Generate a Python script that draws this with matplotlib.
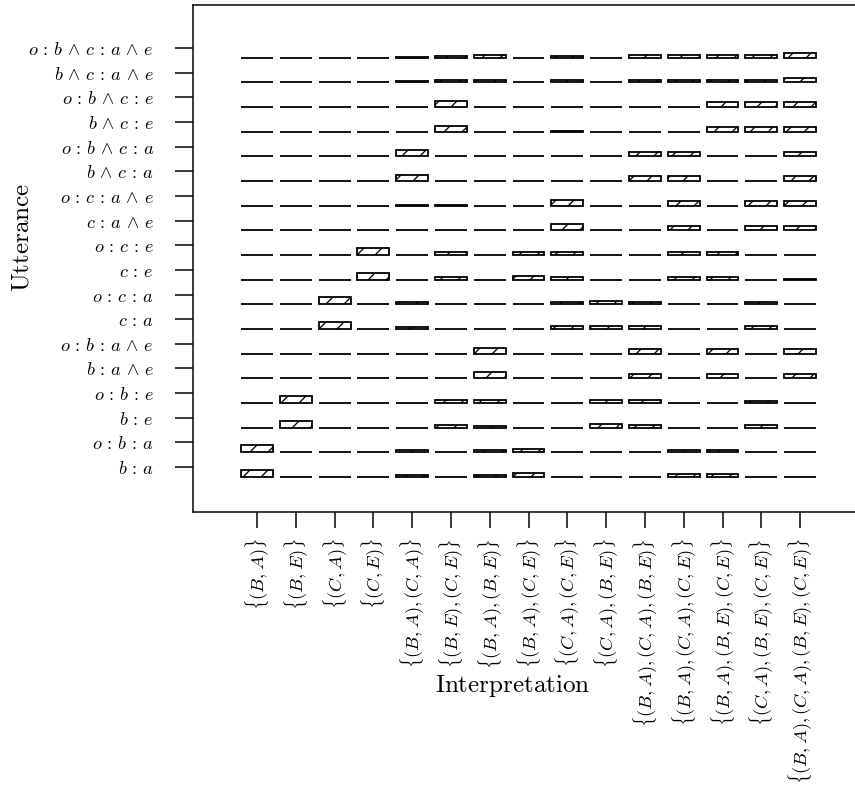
import numpy as np
import matplotlib.pyplot as plt

plt.rcParams['mathtext.fontset'] = 'cm'
plt.rcParams['hatch.linewidth'] = 0.87

# utterances, top row first
utterances = [
    r'$o \,:\, b \,\wedge\, c \,:\, a \,\wedge\, e$',
    r'$b \,\wedge\, c \,:\, a \,\wedge\, e$',
    r'$o \,:\, b \,\wedge\, c \,:\, e$',
    r'$b \,\wedge\, c \,:\, e$',
    r'$o \,:\, b \,\wedge\, c \,:\, a$',
    r'$b \,\wedge\, c \,:\, a$',
    r'$o \,:\, c \,:\, a \,\wedge\, e$',
    r'$c \,:\, a \,\wedge\, e$',
    r'$o \,:\, c \,:\, e$',
    r'$c \,:\, e$',
    r'$o \,:\, c \,:\, a$',
    r'$c \,:\, a$',
    r'$o \,:\, b \,:\, a \,\wedge\, e$',
    r'$b \,:\, a \,\wedge\, e$',
    r'$o \,:\, b \,:\, e$',
    r'$b \,:\, e$',
    r'$o \,:\, b \,:\, a$',
    r'$b \,:\, a$',
]

interpretations = [
    r'$\{(B,A)\}$',
    r'$\{(B,E)\}$',
    r'$\{(C,A)\}$',
    r'$\{(C,E)\}$',
    r'$\{(B,A),(C,A)\}$',
    r'$\{(B,E),(C,E)\}$',
    r'$\{(B,A),(B,E)\}$',
    r'$\{(B,A),(C,E)\}$',
    r'$\{(C,A),(C,E)\}$',
    r'$\{(C,A),(B,E)\}$',
    r'$\{(B,A),(C,A),(B,E)\}$',
    r'$\{(B,A),(C,A),(C,E)\}$',
    r'$\{(B,A),(B,E),(C,E)\}$',
    r'$\{(C,A),(B,E),(C,E)\}$',
    r'$\{(B,A),(C,A),(B,E),(C,E)\}$',
]

# bar heights, one row per utterance (1 = tallest bar)
probs = [
    [0.02, 0.02, 0.02, 0.02, 0.15, 0.30, 0.33, 0.02, 0.30, 0.02, 0.40, 0.35, 0.40, 0.35, 0.67],
    [0.02, 0.02, 0.02, 0.02, 0.18, 0.30, 0.33, 0.02, 0.30, 0.03, 0.40, 0.40, 0.40, 0.38, 0.65],
    [0.02, 0.02, 0.02, 0.02, 0.02, 0.86, 0.02, 0.02, 0.03, 0.02, 0.02, 0.02, 0.67, 0.67, 0.67],
    [0.02, 0.02, 0.02, 0.02, 0.02, 0.86, 0.02, 0.02, 0.05, 0.02, 0.02, 0.03, 0.67, 0.67, 0.67],
    [0.02, 0.02, 0.02, 0.02, 0.86, 0.02, 0.02, 0.02, 0.06, 0.02, 0.67, 0.67, 0.02, 0.02, 0.67],
    [0.02, 0.02, 0.02, 0.02, 0.86, 0.02, 0.06, 0.02, 0.05, 0.02, 0.67, 0.67, 0.02, 0.04, 0.67],
    [0.02, 0.02, 0.02, 0.02, 0.05, 0.04, 0.02, 0.02, 0.86, 0.02, 0.02, 0.67, 0.02, 0.67, 0.67],
    [0.02, 0.02, 0.02, 0.02, 0.02, 0.02, 0.02, 0.02, 0.86, 0.02, 0.02, 0.67, 0.02, 0.67, 0.67],
    [0.02, 0.02, 0.02, 1.00, 0.02, 0.38, 0.02, 0.50, 0.38, 0.02, 0.02, 0.40, 0.40, 0.02, 0.02],
    [0.02, 0.02, 0.02, 1.00, 0.02, 0.45, 0.02, 0.55, 0.45, 0.02, 0.02, 0.42, 0.45, 0.02, 0.10],
    [0.02, 0.02, 1.00, 0.02, 0.30, 0.02, 0.02, 0.02, 0.38, 0.50, 0.40, 0.02, 0.02, 0.40, 0.02],
    [0.02, 0.02, 1.00, 0.02, 0.33, 0.02, 0.02, 0.02, 0.42, 0.50, 0.38, 0.05, 0.02, 0.38, 0.02],
    [0.02, 0.02, 0.02, 0.02, 0.02, 0.02, 0.86, 0.02, 0.02, 0.02, 0.67, 0.02, 0.67, 0.02, 0.67],
    [0.02, 0.02, 0.02, 0.02, 0.02, 0.02, 0.86, 0.02, 0.02, 0.02, 0.67, 0.02, 0.67, 0.02, 0.67],
    [0.02, 1.00, 0.02, 0.02, 0.02, 0.38, 0.38, 0.02, 0.02, 0.50, 0.40, 0.02, 0.02, 0.35, 0.02],
    [0.02, 1.00, 0.02, 0.02, 0.02, 0.35, 0.30, 0.02, 0.02, 0.55, 0.40, 0.02, 0.02, 0.33, 0.02],
    [1.00, 0.02, 0.02, 0.02, 0.35, 0.02, 0.33, 0.45, 0.02, 0.02, 0.02, 0.40, 0.40, 0.02, 0.02],
    [1.00, 0.02, 0.02, 0.02, 0.30, 0.05, 0.35, 0.50, 0.02, 0.02, 0.02, 0.45, 0.45, 0.02, 0.02],
]

# dpi 108 gives a hatch spacing close to the scan; sizes below are px / 1.5
DPI = 108
fig = plt.figure(figsize=(855/DPI, 787/DPI), dpi=DPI)
ax = fig.add_axes([193/855, 1 - 512/787, 677/855, 507/787])

n_rows = len(utterances)
cols = np.arange(len(interpretations))
bar_h = 0.284   # row units for a bar of height 1

for r, row in enumerate(probs):
    y = n_rows - 1 - r
    ax.bar(cols, np.array(row) * bar_h, width=0.82, bottom=y - 0.40,
           align='center', facecolor='white', edgecolor='black',
           hatch='//', linewidth=1.2)

ax.set_xlim(-1.65, 15.8)
ax.set_ylim(-1.82, 18.74)

ax.set_yticks(np.arange(n_rows))
ax.set_yticklabels(utterances[::-1], fontsize=12.2)
ax.set_xticks(cols)
ax.set_xticklabels(interpretations, rotation=90, fontsize=12.3)

ax.tick_params(axis='y', length=12, width=1.0, pad=14)
ax.tick_params(axis='x', length=10.7, width=1.0, pad=6.7)

for side in ['left', 'top', 'bottom']:
    ax.spines[side].set_linewidth(1.0)
ax.spines['right'].set_visible(False)

fig.text(22/855, 1 - 237/787, r'$\mathrm{Utterance}$', rotation=90,
         fontsize=16.7, ha='center', va='center')
fig.text(513/855, 1 - 686/787, r'$\mathrm{Interpretation}$',
         fontsize=16.7, ha='center', va='center')

fig.savefig('out.png', dpi=DPI)
